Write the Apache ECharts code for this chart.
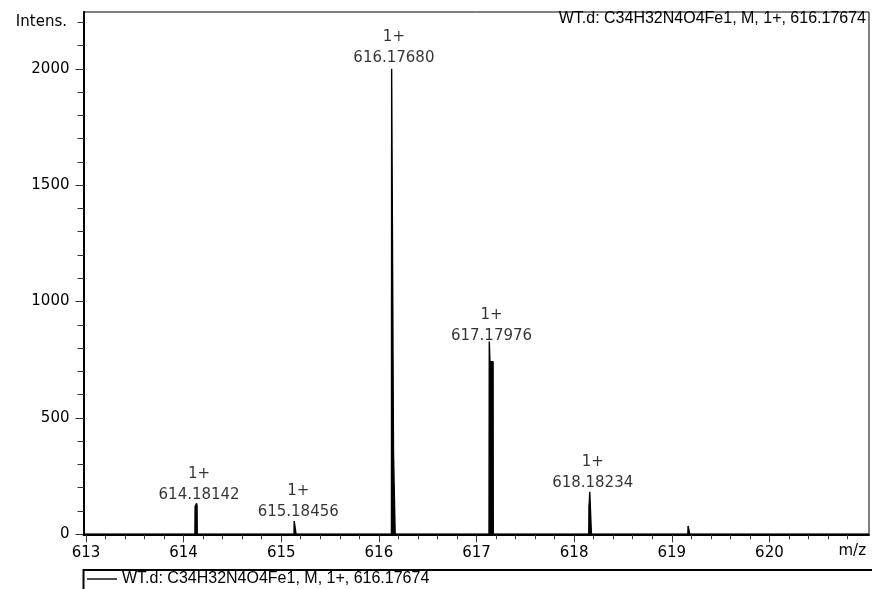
<!DOCTYPE html>
<html><head><meta charset="utf-8">
<script src="https://cdn.jsdelivr.net/npm/echarts@6/dist/echarts.min.js"></script>
<style>html,body{margin:0;padding:0;background:#fff}#c{width:873px;height:589px}</style>
</head><body><div id="c"></div>
<script>
// Profile spectrum (m/z, intensity)
const spectrumMz = [612.975,
  614.116, 614.118, 614.133, 614.138, 614.140,
  615.131, 615.133, 615.150, 615.152,
  616.129, 616.131, 616.148, 616.150, 616.165, 616.167,
  617.128, 617.131, 617.138, 617.170, 617.172,
  618.150, 618.152, 618.156, 618.160, 618.175, 618.177,
  619.165, 619.167, 619.183, 619.185,
  621.02];
const spectrumIntensity = [0,
  0, 118, 133, 122, 0,
  0, 57, 57, 0,
  0, 2000, 2000, 350, 350, 0,
  0, 828, 742, 742, 0,
  0, 126, 140, 183, 183, 0,
  0, 36, 36, 0,
  0];
// Peak annotations (anchor positions of the label text)
const peakLabelMz = [614.159, 615.174, 616.154, 617.154, 618.190];
const peakLabelIntensity = [133, 57, 2008, 815, 183];
const peakLabelCharge = ['1+', '1+', '1+', '1+', '1+'];
const peakLabelMass = ['614.18142', '615.18456', '616.17680', '617.17976', '618.18234'];
// Axes
const xMajorTicks = [613, 614, 615, 616, 617, 618, 619, 620];
const xMinorTicks = [];
for (let i = 613; i <= 620; i++) { [0.2, 0.4, 0.6, 0.8].forEach(f => xMinorTicks.push(+(i + f).toFixed(1))); }
const yMajorTicks = [0, 500, 1000, 1500, 2000];
const yMinorTicks = [100, 200, 300, 400, 600, 700, 800, 900, 1100, 1200, 1300, 1400, 1600, 1700, 1800, 1900, 2100, 2200];
const compoundName = 'WT.d: C34H32N4O4Fe1, M, 1+, 616.17674';
const yAxisTitle = 'Intens.';
const xAxisTitle = 'm/z';

const X_MIN = 612.975, X_MAX = 621.02, Y_MIN = 0, Y_MAX = 2244;
const FONT = 'DejaVu Sans';
const FONT2 = 'Liberation Sans';

const chart = echarts.init(document.getElementById('c'), null, {renderer: 'canvas'});
chart.setOption({
  animation: false,
  backgroundColor: '#fff',
  grid: {left: 83.5, right: 4, top: 12, bottom: 54.7, show: true, borderColor: '#000', borderWidth: 1, containLabel: false},
  xAxis: [{
    type: 'value', min: X_MIN, max: X_MAX, position: 'bottom',
    axisLine: {show: true, onZero: false, lineStyle: {color: '#000', width: 2}},
    axisTick: {show: true, customValues: xMajorTicks, length: 8, lineStyle: {color: '#333', width: 1}},
    axisLabel: {customValues: xMajorTicks, margin: 11, fontFamily: FONT, fontSize: 15, color: '#000', formatter: v => String(v)},
    splitLine: {show: false}
  }, {
    type: 'value', min: X_MIN, max: X_MAX, position: 'bottom',
    axisLine: {show: false},
    axisTick: {show: true, customValues: xMinorTicks, length: 5, lineStyle: {color: '#333', width: 1}},
    axisLabel: {show: false},
    splitLine: {show: false}
  }],
  yAxis: [{
    type: 'value', min: Y_MIN, max: Y_MAX, position: 'left',
    axisLine: {show: true, onZero: false, lineStyle: {color: '#000', width: 2}},
    axisTick: {show: true, customValues: yMajorTicks, length: 8, lineStyle: {color: '#333', width: 1}},
    axisLabel: {customValues: yMajorTicks, margin: 14, fontFamily: FONT, fontSize: 15, color: '#000', formatter: v => String(v)},
    splitLine: {show: false}
  }, {
    type: 'value', min: Y_MIN, max: Y_MAX, position: 'left',
    axisLine: {show: false},
    axisTick: {show: true, customValues: yMinorTicks, length: 6, lineStyle: {color: '#333', width: 1}},
    axisLabel: {show: false},
    splitLine: {show: false}
  }],
  legend: {
    show: true, data: [{name: compoundName, icon: 'rect', itemStyle: {color: '#000'}}], left: 87, top: 571, padding: 0,
    itemWidth: 30, itemHeight: 1.4, itemGap: 5,
    textStyle: {fontFamily: FONT2, fontSize: 16, color: '#000', padding: [0, 0, 0, 0]}
  },
  series: [{
    name: compoundName, type: 'line', xAxisIndex: 0, yAxisIndex: 0,
    data: spectrumMz.map((m, i) => [m, spectrumIntensity[i]]),
    symbol: 'none', smooth: false,
    lineStyle: {color: '#000', width: 1.4},
    itemStyle: {color: '#000'},
    areaStyle: {color: '#000', opacity: 1, origin: 0},
    z: 3
  }, {
    name: 'labels', type: 'scatter', xAxisIndex: 0, yAxisIndex: 0,
    data: peakLabelMz.map((m, i) => [m, peakLabelIntensity[i]]),
    symbolSize: 0, silent: true,
    label: {
      show: true, position: 'top', distance: -2,
      formatter: p => peakLabelCharge[p.dataIndex] + '\n' + peakLabelMass[p.dataIndex],
      fontFamily: FONT, fontSize: 15, lineHeight: 21, color: '#000'
    },
    z: 4
  }],
  graphic: [
    {type: 'text', right: 873 - 67, top: 15, style: {text: yAxisTitle, font: '15px "DejaVu Sans"', fill: '#000'}},
    {type: 'text', right: 873 - 866, top: 544, style: {text: xAxisTitle, font: '15px "DejaVu Sans"', fill: '#000'}},
    {type: 'text', right: 873 - 866, top: 11, style: {text: compoundName, font: '16px "Liberation Sans"', fill: '#000'}},
    {type: 'polyline', shape: {points: [[83.5, 589], [83.5, 570], [872, 570]]}, style: {stroke: '#000', lineWidth: 2, fill: null}, silent: true}
  ]
});
</script></body></html>
